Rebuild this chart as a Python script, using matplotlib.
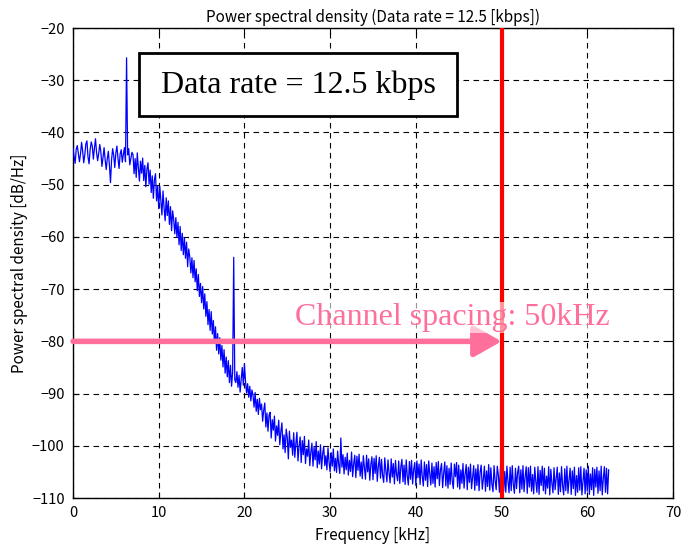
import numpy as np
import matplotlib
matplotlib.use('Agg')
import matplotlib.pyplot as plt
from matplotlib.patches import Rectangle

plt.rcParams['font.family'] = ['Noto Sans CJK JP', 'DejaVu Sans']

# PSD trace, one value every 0.125 kHz (0 .. 62.5 kHz)
freq_step = 0.125
psd_0_10 = [
    -43.0, -44.6, -45.9, -43.2, -42.5, -44.0, -45.6, -44.1,
    -41.9, -43.5, -45.8, -44.3, -42.2, -41.6, -44.7, -46.0,
    -43.3, -41.8, -42.6, -45.1, -43.0, -41.2, -43.9, -45.4,
    -44.0, -42.3, -43.7, -46.5, -44.8, -42.9, -45.2, -47.1,
    -45.0, -43.6, -46.3, -49.6, -45.2, -43.1, -44.4, -46.7,
    -43.9, -42.6, -45.0, -46.9, -44.1, -43.3, -45.7, -44.2,
    -42.9, -45.6, -25.7, -44.3, -43.1, -46.2, -45.0, -43.8,
    -44.2, -47.9, -45.0, -48.6, -43.9, -46.8, -49.3, -45.5,
    -47.8, -44.9, -49.2, -46.3, -50.4, -47.0, -45.8, -49.9,
    -47.2, -51.5, -48.3, -52.6, -49.0, -47.9, -53.1, -50.2]
psd_10_20 = [
    -54.6, -50.3, -53.0, -55.8, -51.2, -54.4, -56.9, -52.5,
    -55.9, -53.1, -57.6, -54.2, -58.8, -55.0, -56.7, -59.4,
    -56.3, -60.1, -57.2, -61.5, -58.0, -62.6, -59.3, -63.4,
    -60.2, -64.1, -61.0, -65.7, -62.3, -63.8, -66.9, -64.0,
    -67.8, -64.5, -68.6, -66.1, -70.3, -67.2, -71.4, -68.9,
    -72.6, -69.5, -73.8, -70.9, -75.2, -72.4, -76.8, -73.9,
    -77.9, -74.3, -78.6, -76.0, -80.4, -77.2, -81.7, -78.5,
    -82.4, -79.3, -83.6, -80.8, -84.9, -81.6, -86.1, -83.0,
    -86.8, -83.7, -87.9, -84.6, -88.6, -85.9, -63.9, -87.4,
    -87.9, -85.8, -88.8, -86.5, -89.7, -87.2, -85.0, -88.4]
psd_20_32 = [
    -84.3, -87.6, -89.9, -88.1, -90.7, -88.6, -91.4, -89.3,
    -90.3, -92.6, -89.8, -93.4, -91.1, -94.0, -90.9, -93.1,
    -92.0, -95.3, -93.2, -91.8, -96.4, -93.7, -97.2, -94.1,
    -93.6, -98.5, -95.0, -97.0, -94.3, -99.1, -96.2, -98.0,
    -95.1, -99.8, -97.3, -95.6, -100.6, -97.9, -101.3, -96.8,
    -98.4, -102.5, -97.2, -100.3, -98.9, -101.8, -97.5, -102.2,
    -99.6, -97.4, -102.9, -100.1, -98.3, -103.2, -99.0, -101.7,
    -98.2, -103.4, -100.6, -102.0, -98.9, -103.8, -101.2, -99.5,
    -103.9, -100.3, -102.7, -99.2, -104.2, -101.0, -103.5, -99.8,
    -104.4, -101.6, -100.1, -103.8, -101.9, -104.6, -100.4, -103.1,
    -105.0, -101.3, -103.9, -100.6, -104.8, -102.4, -105.1, -101.0,
    -103.6, -105.3, -98.5, -104.1, -101.7, -105.4, -102.2, -104.6]
psd_32_62 = [
    -101.4, -105.6, -102.8, -104.9, -101.2, -105.9, -103.4, -101.8,
    -106.1, -102.0, -104.7, -101.6, -105.8, -103.1, -106.3, -101.9,
    -104.2, -106.4, -101.8, -105.0, -102.5, -106.6, -103.6, -102.1,
    -106.5, -102.4, -105.3, -101.9, -106.8, -103.9, -102.2, -106.2,
    -102.6, -105.7, -107.0, -102.3, -104.8, -106.9, -102.7, -105.2,
    -107.1, -102.5, -106.0, -103.4, -107.3, -102.8, -105.5, -106.7,
    -102.9, -107.2, -104.1, -102.6, -106.9, -103.7, -107.4, -102.7,
    -105.8, -107.5, -103.0, -106.4, -102.8, -107.3, -104.5, -103.2,
    -107.6, -102.9, -106.1, -103.5, -107.4, -102.7, -105.9, -107.7,
    -103.1, -106.6, -103.6, -107.8, -102.9, -105.4, -107.5, -103.3,
    -107.2, -104.0, -107.9, -103.2, -106.3, -103.0, -107.6, -104.6,
    -103.4, -108.0, -105.2, -103.1, -107.7, -103.8, -108.1, -104.3,
    -107.4, -103.3, -106.8, -108.2, -103.5, -105.9, -103.2, -107.9,
    -103.7, -108.3, -104.6, -107.2, -103.4, -108.1, -105.4, -103.6,
    -108.4, -104.1, -107.0, -103.5, -108.2, -106.1, -103.8, -108.5,
    -104.4, -107.6, -103.6, -108.6, -105.0, -103.7, -108.3, -106.4,
    -103.9, -108.7, -104.8, -107.8, -103.6, -108.5, -104.2, -107.3,
    -108.8, -103.8, -106.7, -108.4, -103.9, -105.6, -108.9, -104.0,
    -107.5, -103.7, -108.7, -104.9, -108.9, -103.9, -106.8, -109.0,
    -104.1, -108.6, -103.8, -107.4, -109.1, -104.3, -108.2, -105.1,
    -103.9, -109.0, -104.6, -108.3, -103.8, -108.8, -106.0, -104.0,
    -109.1, -104.2, -107.9, -103.9, -108.7, -105.5, -109.2, -104.1,
    -106.9, -108.9, -104.0, -109.3, -104.7, -107.6, -103.9, -108.6,
    -104.3, -109.2, -105.8, -108.1, -104.0, -109.4, -104.5, -107.2,
    -109.0, -104.2, -108.4, -106.3, -104.1, -109.3, -105.2, -108.8,
    -104.0, -107.7, -109.4, -104.4, -108.6, -103.9, -109.1, -106.5,
    -104.3, -109.3, -104.8, -108.2, -104.1, -109.5, -105.7, -108.9,
    -104.2, -108.5, -104.0, -109.4, -106.8, -104.3, -109.2, -104.6,
    -108.7, -103.9, -109.3, -105.4, -108.4, -104.2, -109.5, -104.5,
    -107.9, -104.1, -109.1, -104.8, -108.6, -103.9, -109.4, -106.2,
    -104.0, -108.9, -104.3, -109.2, -104.6]

psd = np.array(psd_0_10 + psd_10_20 + psd_20_32 + psd_32_62)
freq = np.arange(len(psd)) * freq_step

channel_spacing = 50
ref_level = -80

fig = plt.figure(figsize=(6.81, 5.5), dpi=100)
ax = fig.add_axes([0.1072, 0.0945, 0.881, 0.8545])

ax.plot(freq, psd, color='#0000ff', lw=0.9, zorder=3)

ax.set_xlim(0, 70)
ax.set_ylim(-110, -20)
ax.set_xticks(np.arange(0, 71, 10))
ax.set_yticks(np.arange(-110, -19, 10))
ax.grid(True, color='black', linestyle=(0, (5, 4)), lw=0.8, zorder=1)
ax.tick_params(direction='in', top=True, right=True, labelsize=10.5, length=4, pad=6)
for s in ax.spines.values():
    s.set_linewidth(1.0)

ax.set_title('Power spectral density (Data rate = 12.5 [kbps])', fontsize=11, pad=4)
ax.set_xlabel('Frequency [kHz]', fontsize=11, labelpad=5)
ax.set_ylabel('Power spectral density [dB/Hz]', fontsize=11, labelpad=3)

# channel spacing marker
ax.axvline(channel_spacing, color='red', lw=3, zorder=4)
ax.annotate('', xy=(channel_spacing, ref_level), xytext=(0, ref_level),
            arrowprops=dict(arrowstyle='-|>,head_length=0.83,head_width=0.47',
                            mutation_scale=20, color='#ff6f9b', lw=4,
                            shrinkA=0, shrinkB=0),
            zorder=5, annotation_clip=False)
ax.text(25.9, -76.9, 'Channel spacing: 50kHz', color='#ff6f9b',
        family='Liberation Serif', fontsize=23, ha='left', va='baseline', zorder=6,
        bbox=dict(facecolor='white', alpha=0.6, edgecolor='none', pad=1))

# data rate box
ax.add_patch(Rectangle((7.7, -36.85), 37.1, 12.05, facecolor='white',
                       edgecolor='black', lw=2, zorder=5))
ax.text(26.25, -30.9, 'Data rate = 12.5 kbps', color='black',
        family='Liberation Serif', fontsize=23, ha='center', va='center', zorder=6)

fig.savefig('out.png', dpi=100)
